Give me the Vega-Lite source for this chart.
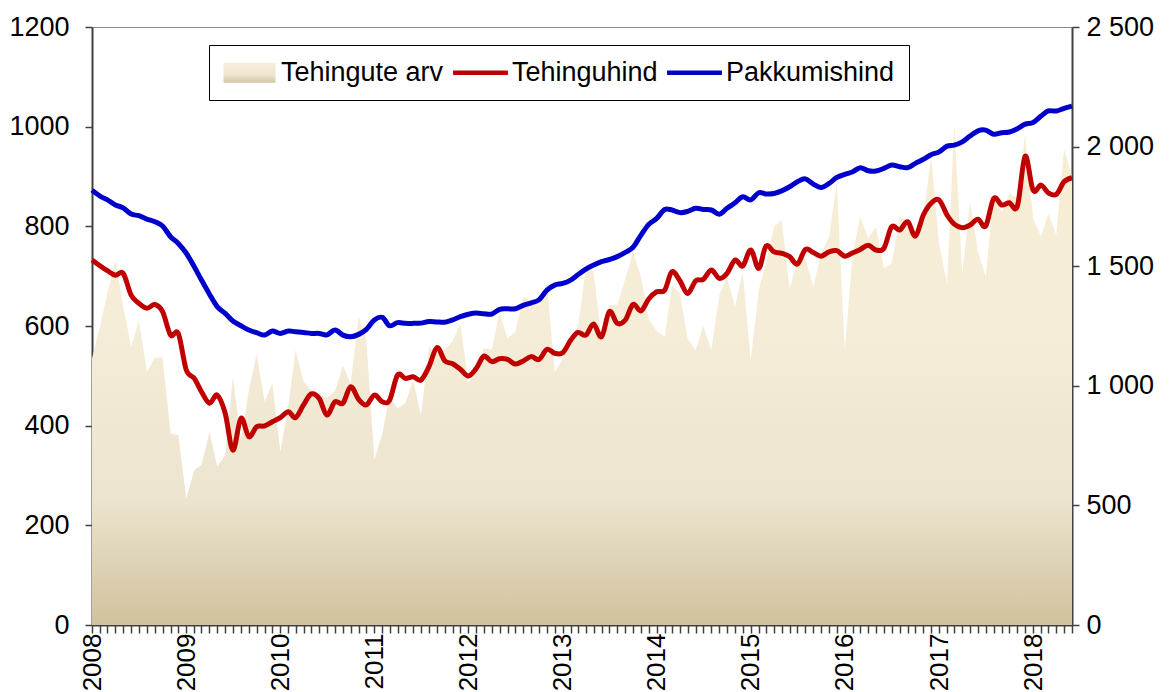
{
  "$schema": "https://vega.github.io/schema/vega-lite/v6.json",
  "width": 980,
  "height": 598,
  "autosize": {"type": "none"},
  "padding": {"left": 92, "top": 27, "right": 98, "bottom": 67},
  "background": "white",
  "config": {
    "view": {"stroke": "#8c8c8c", "strokeWidth": 1},
    "axis": {
      "labelFont": "Liberation Sans",
      "labelFontSize": 27,
      "labelColor": "#000000",
      "domainColor": "#404040",
      "domainWidth": 2,
      "tickColor": "#404040",
      "tickWidth": 1.5,
      "grid": false,
      "title": null
    }
  },
  "data": {
    "values": [
      {"d": "2008-01-01", "arv": 535, "Tehinguhind": 1526, "Pakkumishind": 1818},
      {"d": "2008-02-01", "arv": 600, "Tehinguhind": 1502, "Pakkumishind": 1793},
      {"d": "2008-03-01", "arv": 667, "Tehinguhind": 1481, "Pakkumishind": 1777},
      {"d": "2008-04-01", "arv": 732, "Tehinguhind": 1462, "Pakkumishind": 1756},
      {"d": "2008-05-01", "arv": 640, "Tehinguhind": 1470, "Pakkumishind": 1744},
      {"d": "2008-06-01", "arv": 558, "Tehinguhind": 1379, "Pakkumishind": 1718},
      {"d": "2008-07-01", "arv": 612, "Tehinguhind": 1345, "Pakkumishind": 1711},
      {"d": "2008-08-01", "arv": 508, "Tehinguhind": 1324, "Pakkumishind": 1697},
      {"d": "2008-09-01", "arv": 537, "Tehinguhind": 1340, "Pakkumishind": 1686},
      {"d": "2008-10-01", "arv": 537, "Tehinguhind": 1310, "Pakkumishind": 1668},
      {"d": "2008-11-01", "arv": 385, "Tehinguhind": 1212, "Pakkumishind": 1623},
      {"d": "2008-12-01", "arv": 381, "Tehinguhind": 1219, "Pakkumishind": 1595},
      {"d": "2009-01-01", "arv": 254, "Tehinguhind": 1066, "Pakkumishind": 1554},
      {"d": "2009-02-01", "arv": 311, "Tehinguhind": 1031, "Pakkumishind": 1498},
      {"d": "2009-03-01", "arv": 321, "Tehinguhind": 975, "Pakkumishind": 1442},
      {"d": "2009-04-01", "arv": 388, "Tehinguhind": 927, "Pakkumishind": 1383},
      {"d": "2009-05-01", "arv": 318, "Tehinguhind": 961, "Pakkumishind": 1331},
      {"d": "2009-06-01", "arv": 341, "Tehinguhind": 885, "Pakkumishind": 1303},
      {"d": "2009-07-01", "arv": 498, "Tehinguhind": 731, "Pakkumishind": 1271},
      {"d": "2009-08-01", "arv": 371, "Tehinguhind": 864, "Pakkumishind": 1251},
      {"d": "2009-09-01", "arv": 471, "Tehinguhind": 787, "Pakkumishind": 1233},
      {"d": "2009-10-01", "arv": 545, "Tehinguhind": 829, "Pakkumishind": 1222},
      {"d": "2009-11-01", "arv": 448, "Tehinguhind": 832, "Pakkumishind": 1212},
      {"d": "2009-12-01", "arv": 485, "Tehinguhind": 850, "Pakkumishind": 1229},
      {"d": "2010-01-01", "arv": 348, "Tehinguhind": 867, "Pakkumishind": 1219},
      {"d": "2010-02-01", "arv": 438, "Tehinguhind": 892, "Pakkumishind": 1229},
      {"d": "2010-03-01", "arv": 552, "Tehinguhind": 867, "Pakkumishind": 1226},
      {"d": "2010-04-01", "arv": 488, "Tehinguhind": 920, "Pakkumishind": 1223},
      {"d": "2010-05-01", "arv": 471, "Tehinguhind": 966, "Pakkumishind": 1219},
      {"d": "2010-06-01", "arv": 465, "Tehinguhind": 947, "Pakkumishind": 1219},
      {"d": "2010-07-01", "arv": 455, "Tehinguhind": 878, "Pakkumishind": 1213},
      {"d": "2010-08-01", "arv": 469, "Tehinguhind": 933, "Pakkumishind": 1233},
      {"d": "2010-09-01", "arv": 520, "Tehinguhind": 927, "Pakkumishind": 1212},
      {"d": "2010-10-01", "arv": 485, "Tehinguhind": 996, "Pakkumishind": 1205},
      {"d": "2010-11-01", "arv": 619, "Tehinguhind": 943, "Pakkumishind": 1215},
      {"d": "2010-12-01", "arv": 572, "Tehinguhind": 920, "Pakkumishind": 1236},
      {"d": "2011-01-01", "arv": 331, "Tehinguhind": 961, "Pakkumishind": 1275},
      {"d": "2011-02-01", "arv": 385, "Tehinguhind": 933, "Pakkumishind": 1286},
      {"d": "2011-03-01", "arv": 458, "Tehinguhind": 940, "Pakkumishind": 1251},
      {"d": "2011-04-01", "arv": 435, "Tehinguhind": 1045, "Pakkumishind": 1264},
      {"d": "2011-05-01", "arv": 445, "Tehinguhind": 1031, "Pakkumishind": 1261},
      {"d": "2011-06-01", "arv": 491, "Tehinguhind": 1038, "Pakkumishind": 1261},
      {"d": "2011-07-01", "arv": 421, "Tehinguhind": 1024, "Pakkumishind": 1262},
      {"d": "2011-08-01", "arv": 558, "Tehinguhind": 1080, "Pakkumishind": 1269},
      {"d": "2011-09-01", "arv": 545, "Tehinguhind": 1160, "Pakkumishind": 1267},
      {"d": "2011-10-01", "arv": 552, "Tehinguhind": 1105, "Pakkumishind": 1266},
      {"d": "2011-11-01", "arv": 570, "Tehinguhind": 1092, "Pakkumishind": 1276},
      {"d": "2011-12-01", "arv": 605, "Tehinguhind": 1069, "Pakkumishind": 1289},
      {"d": "2012-01-01", "arv": 485, "Tehinguhind": 1041, "Pakkumishind": 1299},
      {"d": "2012-02-01", "arv": 513, "Tehinguhind": 1073, "Pakkumishind": 1304},
      {"d": "2012-03-01", "arv": 555, "Tehinguhind": 1124, "Pakkumishind": 1301},
      {"d": "2012-04-01", "arv": 553, "Tehinguhind": 1101, "Pakkumishind": 1300},
      {"d": "2012-05-01", "arv": 628, "Tehinguhind": 1113, "Pakkumishind": 1320},
      {"d": "2012-06-01", "arv": 575, "Tehinguhind": 1110, "Pakkumishind": 1322},
      {"d": "2012-07-01", "arv": 588, "Tehinguhind": 1091, "Pakkumishind": 1322},
      {"d": "2012-08-01", "arv": 659, "Tehinguhind": 1104, "Pakkumishind": 1336},
      {"d": "2012-09-01", "arv": 649, "Tehinguhind": 1122, "Pakkumishind": 1347},
      {"d": "2012-10-01", "arv": 642, "Tehinguhind": 1110, "Pakkumishind": 1359},
      {"d": "2012-11-01", "arv": 685, "Tehinguhind": 1152, "Pakkumishind": 1400},
      {"d": "2012-12-01", "arv": 507, "Tehinguhind": 1136, "Pakkumishind": 1421},
      {"d": "2013-01-01", "arv": 535, "Tehinguhind": 1138, "Pakkumishind": 1428},
      {"d": "2013-02-01", "arv": 574, "Tehinguhind": 1190, "Pakkumishind": 1442},
      {"d": "2013-03-01", "arv": 598, "Tehinguhind": 1223, "Pakkumishind": 1464},
      {"d": "2013-04-01", "arv": 716, "Tehinguhind": 1212, "Pakkumishind": 1488},
      {"d": "2013-05-01", "arv": 709, "Tehinguhind": 1258, "Pakkumishind": 1505},
      {"d": "2013-06-01", "arv": 575, "Tehinguhind": 1205, "Pakkumishind": 1519},
      {"d": "2013-07-01", "arv": 642, "Tehinguhind": 1310, "Pakkumishind": 1528},
      {"d": "2013-08-01", "arv": 642, "Tehinguhind": 1261, "Pakkumishind": 1540},
      {"d": "2013-09-01", "arv": 695, "Tehinguhind": 1275, "Pakkumishind": 1558},
      {"d": "2013-10-01", "arv": 749, "Tehinguhind": 1340, "Pakkumishind": 1579},
      {"d": "2013-11-01", "arv": 699, "Tehinguhind": 1313, "Pakkumishind": 1630},
      {"d": "2013-12-01", "arv": 614, "Tehinguhind": 1363, "Pakkumishind": 1675},
      {"d": "2014-01-01", "arv": 590, "Tehinguhind": 1393, "Pakkumishind": 1700},
      {"d": "2014-02-01", "arv": 578, "Tehinguhind": 1400, "Pakkumishind": 1737},
      {"d": "2014-03-01", "arv": 682, "Tehinguhind": 1477, "Pakkumishind": 1735},
      {"d": "2014-04-01", "arv": 665, "Tehinguhind": 1439, "Pakkumishind": 1724},
      {"d": "2014-05-01", "arv": 575, "Tehinguhind": 1386, "Pakkumishind": 1729},
      {"d": "2014-06-01", "arv": 552, "Tehinguhind": 1439, "Pakkumishind": 1742},
      {"d": "2014-07-01", "arv": 600, "Tehinguhind": 1445, "Pakkumishind": 1737},
      {"d": "2014-08-01", "arv": 552, "Tehinguhind": 1484, "Pakkumishind": 1735},
      {"d": "2014-09-01", "arv": 662, "Tehinguhind": 1449, "Pakkumishind": 1717},
      {"d": "2014-10-01", "arv": 699, "Tehinguhind": 1470, "Pakkumishind": 1742},
      {"d": "2014-11-01", "arv": 639, "Tehinguhind": 1526, "Pakkumishind": 1765},
      {"d": "2014-12-01", "arv": 709, "Tehinguhind": 1501, "Pakkumishind": 1790},
      {"d": "2015-01-01", "arv": 532, "Tehinguhind": 1568, "Pakkumishind": 1777},
      {"d": "2015-02-01", "arv": 672, "Tehinguhind": 1491, "Pakkumishind": 1807},
      {"d": "2015-03-01", "arv": 726, "Tehinguhind": 1584, "Pakkumishind": 1802},
      {"d": "2015-04-01", "arv": 799, "Tehinguhind": 1560, "Pakkumishind": 1804},
      {"d": "2015-05-01", "arv": 812, "Tehinguhind": 1554, "Pakkumishind": 1815},
      {"d": "2015-06-01", "arv": 675, "Tehinguhind": 1540, "Pakkumishind": 1832},
      {"d": "2015-07-01", "arv": 732, "Tehinguhind": 1509, "Pakkumishind": 1853},
      {"d": "2015-08-01", "arv": 735, "Tehinguhind": 1570, "Pakkumishind": 1865},
      {"d": "2015-09-01", "arv": 679, "Tehinguhind": 1557, "Pakkumishind": 1843},
      {"d": "2015-10-01", "arv": 746, "Tehinguhind": 1542, "Pakkumishind": 1829},
      {"d": "2015-11-01", "arv": 779, "Tehinguhind": 1560, "Pakkumishind": 1846},
      {"d": "2015-12-01", "arv": 886, "Tehinguhind": 1565, "Pakkumishind": 1871},
      {"d": "2016-01-01", "arv": 552, "Tehinguhind": 1542, "Pakkumishind": 1884},
      {"d": "2016-02-01", "arv": 746, "Tehinguhind": 1556, "Pakkumishind": 1895},
      {"d": "2016-03-01", "arv": 819, "Tehinguhind": 1570, "Pakkumishind": 1912},
      {"d": "2016-04-01", "arv": 776, "Tehinguhind": 1588, "Pakkumishind": 1899},
      {"d": "2016-05-01", "arv": 799, "Tehinguhind": 1568, "Pakkumishind": 1898},
      {"d": "2016-06-01", "arv": 716, "Tehinguhind": 1575, "Pakkumishind": 1909},
      {"d": "2016-07-01", "arv": 726, "Tehinguhind": 1665, "Pakkumishind": 1923},
      {"d": "2016-08-01", "arv": 819, "Tehinguhind": 1651, "Pakkumishind": 1916},
      {"d": "2016-09-01", "arv": 809, "Tehinguhind": 1686, "Pakkumishind": 1912},
      {"d": "2016-10-01", "arv": 789, "Tehinguhind": 1626, "Pakkumishind": 1930},
      {"d": "2016-11-01", "arv": 812, "Tehinguhind": 1714, "Pakkumishind": 1947},
      {"d": "2016-12-01", "arv": 942, "Tehinguhind": 1763, "Pakkumishind": 1966},
      {"d": "2017-01-01", "arv": 766, "Tehinguhind": 1777, "Pakkumishind": 1978},
      {"d": "2017-02-01", "arv": 685, "Tehinguhind": 1714, "Pakkumishind": 2002},
      {"d": "2017-03-01", "arv": 1006, "Tehinguhind": 1676, "Pakkumishind": 2006},
      {"d": "2017-04-01", "arv": 705, "Tehinguhind": 1661, "Pakkumishind": 2020},
      {"d": "2017-05-01", "arv": 849, "Tehinguhind": 1672, "Pakkumishind": 2044},
      {"d": "2017-06-01", "arv": 749, "Tehinguhind": 1696, "Pakkumishind": 2066},
      {"d": "2017-07-01", "arv": 699, "Tehinguhind": 1668, "Pakkumishind": 2069},
      {"d": "2017-08-01", "arv": 866, "Tehinguhind": 1783, "Pakkumishind": 2052},
      {"d": "2017-09-01", "arv": 829, "Tehinguhind": 1756, "Pakkumishind": 2058},
      {"d": "2017-10-01", "arv": 866, "Tehinguhind": 1765, "Pakkumishind": 2061},
      {"d": "2017-11-01", "arv": 856, "Tehinguhind": 1751, "Pakkumishind": 2075},
      {"d": "2017-12-01", "arv": 986, "Tehinguhind": 1960, "Pakkumishind": 2094},
      {"d": "2018-01-01", "arv": 816, "Tehinguhind": 1818, "Pakkumishind": 2101},
      {"d": "2018-02-01", "arv": 779, "Tehinguhind": 1839, "Pakkumishind": 2128},
      {"d": "2018-03-01", "arv": 826, "Tehinguhind": 1807, "Pakkumishind": 2149},
      {"d": "2018-04-01", "arv": 782, "Tehinguhind": 1800, "Pakkumishind": 2149},
      {"d": "2018-05-01", "arv": 956, "Tehinguhind": 1853, "Pakkumishind": 2160},
      {"d": "2018-06-01", "arv": 899, "Tehinguhind": 1870, "Pakkumishind": 2169}
    ]
  },
  "layer": [
    {
      "mark": {
        "type": "area",
        "interpolate": "linear",
        "color": {
          "gradient": "linear",
          "x1": 0, "y1": 0, "x2": 0, "y2": 1,
          "stops": [
            {"offset": 0, "color": "#F8EDD3"},
            {"offset": 0.4, "color": "#F5EDD8"},
            {"offset": 0.75, "color": "#ECE4CE"},
            {"offset": 1, "color": "#D0C29E"}
          ]
        }
      },
      "encoding": {
        "x": {
          "field": "d",
          "type": "temporal",
          "scale": {"type": "utc", "nice": false},
          "axis": {
            "tickCount": {"interval": "month", "step": 1},
            "labelExpr": "utcFormat(datum.value, '%m') === '01' ? utcFormat(datum.value, '%Y') : ''",
            "labelAngle": 270,
            "labelFontSize": 26,
            "labelOverlap": false,
            "labelFlush": false,
            "labelBound": false,
            "tickSize": 8,
            "labelPadding": 0
          }
        },
        "y": {
          "field": "arv",
          "type": "quantitative",
          "scale": {"domain": [0, 1200], "nice": false},
          "axis": {
            "orient": "left",
            "values": [0, 200, 400, 600, 800, 1000, 1200],
            "format": "d",
            "tickSize": 7,
            "labelPadding": 16
          }
        }
      }
    },
    {
      "transform": [{"fold": ["Tehinguhind", "Pakkumishind"], "as": ["series", "value"]}],
      "mark": {"type": "line", "strokeWidth": 5, "interpolate": "cardinal"},
      "encoding": {
        "x": {"field": "d", "type": "temporal"},
        "y": {
          "field": "value",
          "type": "quantitative",
          "scale": {"domain": [0, 2500], "nice": false},
          "axis": {
            "orient": "right",
            "values": [0, 500, 1000, 1500, 2000, 2500],
            "labelExpr": "replace(format(datum.value, ','), ',', ' ')",
            "tickSize": 7,
            "labelPadding": 7
          }
        },
        "color": {
          "field": "series",
          "type": "nominal",
          "scale": {
            "domain": ["Tehingute arv", "Tehinguhind", "Pakkumishind"],
            "range": ["#F3E8CF", "#C00000", "#0000CC"]
          },
          "legend": {
            "orient": "none",
            "legendX": 117,
            "legendY": 18,
            "direction": "horizontal",
            "title": null,
            "symbolType": "stroke",
            "symbolSize": 784,
            "symbolOffset": 13,
            "symbolStrokeWidth": 4.5,
            "labelFont": "Liberation Sans",
            "labelFontSize": 27,
            "labelColor": "#000000",
            "labelOffset": 18,
            "labelLimit": 0,
            "columnPadding": 0,
            "padding": 14,
            "strokeColor": "#000000",
            "fillColor": "#ffffff",
            "encode": {
              "symbols": {
                "update": {
                  "shape": {"signal": "(datum.value === 'Tehingute arv' || datum.label === 'Tehingute arv') ? 'M-1.86,-0.71H1.86V0.71H-1.86Z' : 'M-1.96,0H1.96'"},
                  "fill": {"value": {
                    "gradient": "linear", "x1": 0, "y1": 0, "x2": 0, "y2": 1,
                    "stops": [
                      {"offset": 0, "color": "#F8EFDA"},
                      {"offset": 0.6, "color": "#EFE6D0"},
                      {"offset": 1, "color": "#D3C6A4"}
                    ]
                  }},
                  "fillOpacity": {"value": 1},
                  "strokeWidth": {"signal": "(datum.value === 'Tehingute arv' || datum.label === 'Tehingute arv') ? 0 : 4.5"}
                }
              }
            }
          }
        }
      }
    }
  ],
  "resolve": {"scale": {"y": "independent"}}
}
